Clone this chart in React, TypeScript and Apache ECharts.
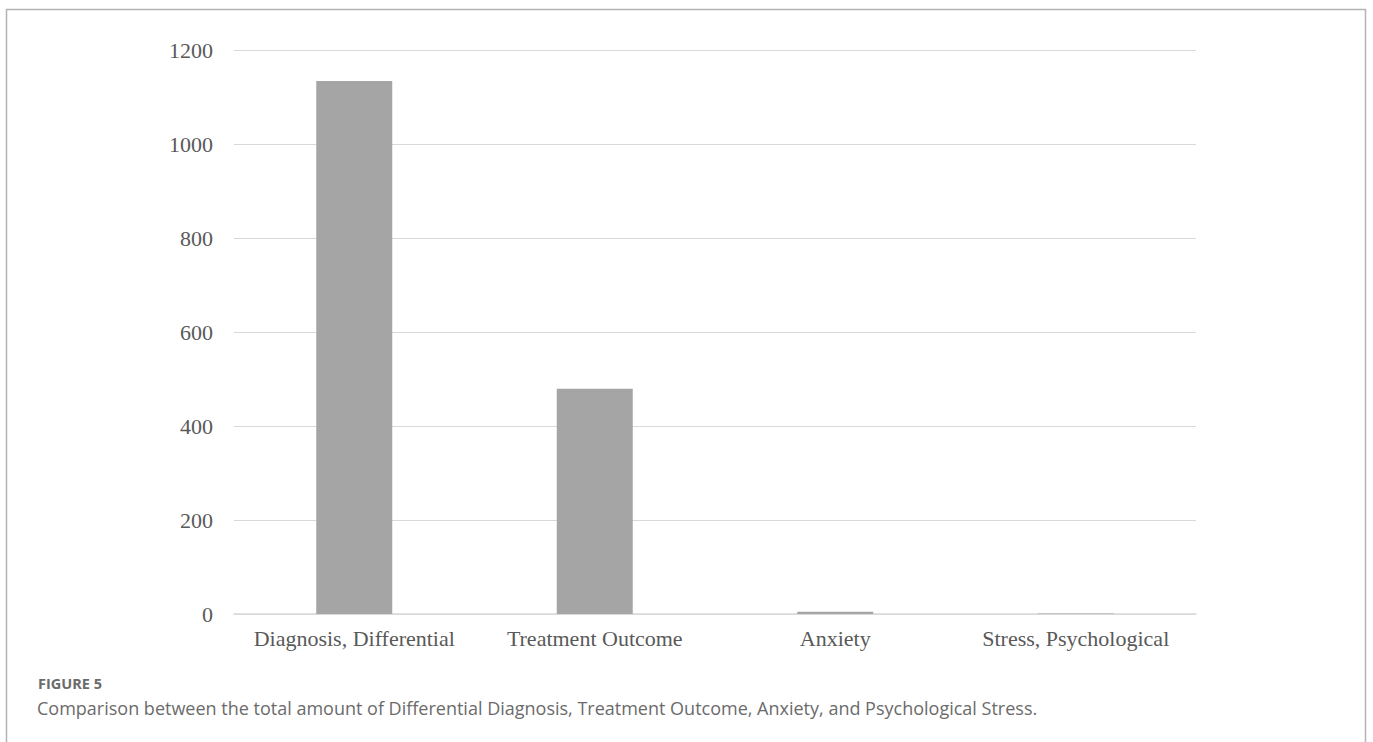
import React, { useEffect, useRef } from "react";
import * as echarts from "echarts";

// Topic categories and their total counts
const categories = [
  "Diagnosis, Differential",
  "Treatment Outcome",
  "Anxiety",
  "Stress, Psychological",
];
const totals = [1134, 479, 5, 1];

// Value axis settings
const yMin = 0;
const yMax = 1200;
const yStep = 200;

const figureLabel = "FIGURE 5";
const captionText =
  "Comparison between the total amount of Differential Diagnosis, Treatment Outcome, Anxiety, and Psychological Stress.";

export default function App() {
  const ref = useRef<HTMLDivElement>(null);

  useEffect(() => {
    if (!ref.current) return;
    const chart = echarts.init(ref.current, null, { renderer: "svg" });
    chart.setOption({
      animation: false,
      backgroundColor: "#ffffff",
      grid: { left: 234, right: 177, top: 50, bottom: 128, containLabel: false },
      xAxis: {
        type: "category",
        data: categories,
        axisLine: { show: true, lineStyle: { color: "#d9d9d9", width: 1.5 } },
        axisTick: { show: false },
        axisLabel: {
          interval: 0,
          hideOverlap: false,
          margin: 13,
          fontFamily: "Liberation Serif, Times New Roman, serif",
          fontSize: 22,
          color: "#595959",
        },
      },
      yAxis: {
        type: "value",
        min: yMin,
        max: yMax,
        interval: yStep,
        axisLine: { show: false },
        axisTick: { show: false },
        splitLine: { lineStyle: { color: "#d9d9d9", width: 1.2 } },
        axisLabel: {
          margin: 21,
          formatter: (v: number) => String(v),
          fontFamily: "Liberation Serif, Times New Roman, serif",
          fontSize: 22,
          color: "#595959",
        },
      },
      series: [
        {
          type: "bar",
          data: totals,
          barWidth: "31.6%",
          itemStyle: { color: "#a5a5a5" },
        },
      ],
      graphic: [
        {
          type: "rect",
          shape: { x: 6.5, y: 9.5, width: 1359, height: 780 },
          style: { fill: "none", stroke: "#b3b3b3", lineWidth: 1.5 },
          silent: true,
        },
        {
          type: "text",
          x: 38,
          y: 683,
          style: {
            text: figureLabel,
            fontFamily: "Open Sans, sans-serif",
            fontWeight: "bold",
            fontSize: 14.5,
            fill: "#6b6b6b",
            verticalAlign: "middle",
          },
        },
        {
          type: "text",
          x: 37,
          y: 708,
          style: {
            text: captionText,
            fontFamily: "Open Sans, sans-serif",
            fontSize: 18,
            fill: "#6b6b6b",
            verticalAlign: "middle",
          },
        },
      ],
    });
    return () => chart.dispose();
  }, []);

  return (
    <div
      ref={ref}
      style={{ position: "fixed", left: 0, top: 0, width: 1373, height: 742 }}
    />
  );
}
